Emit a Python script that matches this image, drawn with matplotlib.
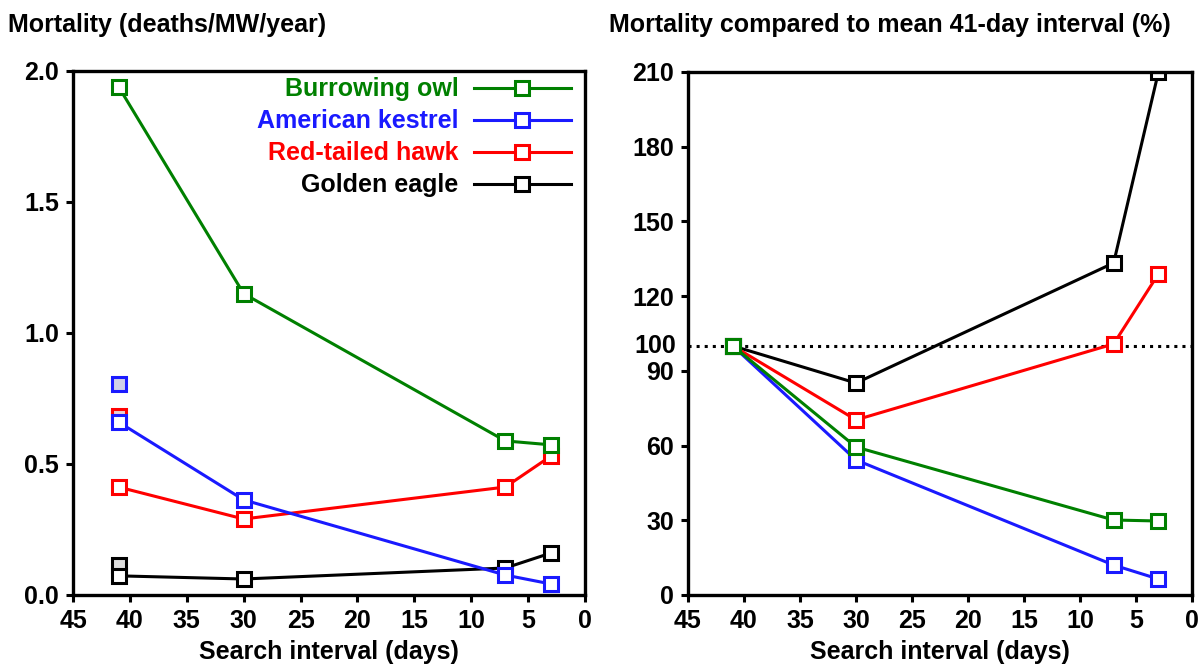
import numpy as np
import matplotlib.pyplot as plt

plt.rcParams['font.family'] = ['Liberation Sans', 'DejaVu Sans']
plt.rcParams['font.weight'] = 'bold'

# search intervals (days)
interval = [41, 30, 7, 3]

species = ["Burrowing owl", "American kestrel", "Red-tailed hawk", "Golden eagle"]
colors = ["green", "#1a1aff", "red", "black"]

# mortality, deaths/MW/year
owl = [1.94, 1.15, 0.588, 0.573]
kestrel = [0.66, 0.363, 0.076, 0.042]
hawk = [0.412, 0.29, 0.412, 0.53]
eagle = [0.073, 0.061, 0.103, 0.16]
mortality = [owl, kestrel, hawk, eagle]

# second 41-day estimate (unconnected points)
extra_x = [41, 41, 41]
extra_y = [0.805, 0.683, 0.115]
extra_col = ["#1a1aff", "red", "black"]
extra_fill = ["#cfcfe8", "#ecd0d0", "#dedede"]

# mortality relative to mean 41-day interval, %
owl_pct = [100, 59.4, 30.1, 29.7]
kestrel_pct = [100, 54.2, 12.0, 6.4]
hawk_pct = [100, 70.3, 100.8, 128.9]
eagle_pct = [100, 85.1, 133.3, 210]
percent = [owl_pct, kestrel_pct, hawk_pct, eagle_pct]

FS = 18

fig = plt.figure(figsize=(11.99, 6.65), dpi=100)
ax1 = fig.add_axes([0.0609, 0.1053, 0.427, 0.788])
ax2 = fig.add_axes([0.5738, 0.1053, 0.4204, 0.7865])

style = dict(marker='s', markersize=10, markerfacecolor='white',
             markeredgewidth=2.2, linewidth=2.2)

# draw back to front so green ends on top
for name, c, y in reversed(list(zip(species, colors, mortality))):
    ax1.plot(interval, y, color=c, label=name, markeredgecolor=c, **style)
for x, y, c, f in zip(extra_x, extra_y, extra_col, extra_fill):
    ax1.plot([x], [y], linestyle='none', marker='s', markersize=10,
             markerfacecolor=f, markeredgecolor=c, markeredgewidth=2.2, zorder=1)

ax2.axhline(100, color='black', linestyle=':', linewidth=2.2, zorder=1)
for name, c, y in reversed(list(zip(species, colors, percent))):
    ax2.plot(interval, y, color=c, markeredgecolor=c, **style)

for ax in (ax1, ax2):
    ax.set_xlim(45, 0)
    ax.set_xticks(np.arange(45, -1, -5))
    for s in ax.spines.values():
        s.set_linewidth(2.4)
    ax.tick_params(direction='out', width=2.2, length=5, labelsize=FS, pad=5)
    ax.set_xlabel("Search interval (days)", fontsize=FS, fontweight='bold', labelpad=5)
    for lab in ax.get_xticklabels() + ax.get_yticklabels():
        lab.set_fontweight('bold')

ax1.set_ylim(0, 2.0)
ax1.set_yticks([0, 0.5, 1.0, 1.5, 2.0])
ax1.set_yticklabels(["0.0", "0.5", "1.0", "1.5", "2.0"], fontweight='bold')

ax2.set_ylim(0, 210)
ax2.set_yticks([0, 30, 60, 90, 120, 150, 180, 210])
ax2.set_yticklabels(["0", "30", "60", "90", "120", "150", "180", "210"], fontweight='bold')
# 100 reference label without a tick mark
ax2.text(-0.0235, 100, "100", transform=ax2.get_yaxis_transform(), ha='right', va='center',
         fontsize=FS, fontweight='bold')

fig.text(0.007, 0.962, "Mortality (deaths/MW/year)", fontsize=FS, fontweight='bold',
         ha='left', va='center')
fig.text(0.508, 0.962, "Mortality compared to mean 41-day interval (%)", fontsize=FS,
         fontweight='bold', ha='left', va='center')

handles, labels = ax1.get_legend_handles_labels()
leg = ax1.legend(handles[::-1], labels[::-1], loc='upper right', bbox_to_anchor=(1.0, 1.014),
                 frameon=False, markerfirst=False, handlelength=3.9, borderaxespad=0.15,
                 labelspacing=0.32, handletextpad=0.6, prop={'weight': 'bold', 'size': FS})
for t, c in zip(leg.get_texts(), colors):
    t.set_color(c)

fig.savefig("out.png", dpi=100)
